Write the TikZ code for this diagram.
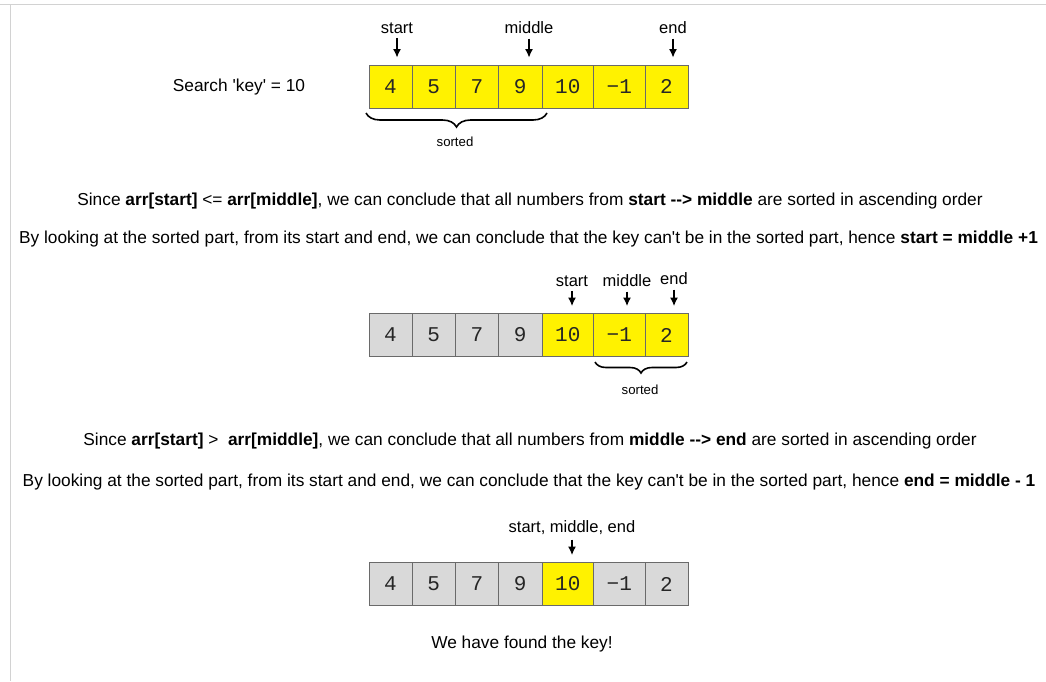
\documentclass[tikz,border=0pt]{standalone}
\usepackage{fontspec}
\setmainfont{Liberation Sans}
\newfontfamily\celdafont{Liberation Mono}
\usetikzlibrary{decorations.pathreplacing,arrows.meta}
\definecolor{grisceld}{HTML}{D9D9D9}
\definecolor{bordeceld}{HTML}{6A6A6A}
\definecolor{marco}{HTML}{D2D2D2}
\newcommand{\q}{\textquotesingle}

\begin{document}
\begin{tikzpicture}[x=1pt,y=-1pt,>={Latex[length=8.5pt,width=8pt]},
	celda/.style={draw=bordeceld, line width=1pt, minimum height=43pt, inner sep=0pt, font=\celdafont\fontsize{21}{21}\selectfont, text=black!85},
	amarilla/.style={celda, fill=yellow},
	gris/.style={celda, fill=grisceld},
	etiqueta/.style={font=\fontsize{16.5}{16.5}\selectfont},
	texto/.style={font=\fontsize{17.3}{17.3}\selectfont},
	flecha/.style={->, line width=1.2pt, shorten <=1pt, shorten >=7pt},
	llave/.style={decorate, decoration={brace, mirror, amplitude=#1}, line width=1.6pt}]
	\useasboundingbox (0,0) rectangle (1046,681);
	\draw [marco, line width=1pt] (0,4) -- (1046,4);
	\draw [marco, line width=1pt] (10,4) -- (10,681);
% PRIMER ARREGLO
	\node [texto] (busca) at (239,87) {Search \q key\q{} = 10};
	\node [amarilla, minimum width=43pt] (a1) at (390.5,86.5) {4};
	\node [amarilla, minimum width=43.5pt] (a2) at (433.75,86.5) {5};
	\node [amarilla, minimum width=43pt] (a3) at (477,86.5) {7};
	\node [amarilla, minimum width=43.5pt] (a4) at (520.25,86.5) {9};
	\node [amarilla, minimum width=51.5pt] (a5) at (567.75,86.5) {10};
	\node [amarilla, minimum width=51.5pt] (a6) at (619.25,86.5) {−1};
	\node [amarilla, minimum width=43pt] (a7) at (666.5,86.5) {2};
	\node [etiqueta] (ini1) at (397,28) {start};
	\node [etiqueta] (mid1) at (529,28) {middle};
	\node [etiqueta] (fin1) at (673,28) {end};
	\draw [flecha] (ini1) -- (ini1 |- a1.north);
	\draw [flecha] (mid1) -- (mid1 |- a1.north);
	\draw [flecha] (fin1) -- (fin1 |- a1.north);
	\coordinate (l1a) at (366,113);
	\coordinate (l1b) at (547,113);
	\draw [llave=14pt] (l1a) -- (l1b);
	\node [font=\fontsize{13.2}{13.2}\selectfont] (ord1) at (455,142) {sorted};
	\node [texto] (frase1) at (530,201.5) {Since \textbf{arr[start]} <= \textbf{arr[middle]}, we can conclude that all numbers from \textbf{start -{}-> middle} are sorted in ascending order};
	\node [texto] (frase2) at (528.5,239.5) {By looking at the sorted part, from its start and end, we can conclude that the key can\q t be in the sorted part, hence \textbf{start = middle +1}};
% SEGUNDO ARREGLO
	\node [gris, minimum width=43pt] (b1) at (390.5,335) {4};
	\node [gris, minimum width=43.5pt] (b2) at (433.75,335) {5};
	\node [gris, minimum width=43pt] (b3) at (477,335) {7};
	\node [gris, minimum width=43.5pt] (b4) at (520.25,335) {9};
	\node [amarilla, minimum width=51.5pt] (b5) at (567.75,335) {10};
	\node [amarilla, minimum width=51.5pt] (b6) at (619.25,335) {−1};
	\node [amarilla, minimum width=43pt] (b7) at (666.5,335) {2};
	\node [etiqueta] (ini2) at (572,281) {start};
	\node [etiqueta] (mid2) at (627,281) {middle};
	\node [etiqueta] (fin2) at (674,279) {end};
	\draw [flecha] (ini2) -- (ini2 |- b1.north);
	\draw [flecha] (mid2) -- (mid2 |- b1.north);
	\draw [flecha] (fin2) -- (fin2 |- b1.north);
	\coordinate (l2a) at (595,362);
	\coordinate (l2b) at (687,362);
	\draw [llave=11pt] (l2a) -- (l2b);
	\node [font=\fontsize{13.2}{13.2}\selectfont] (ord2) at (640,390) {sorted};
	\node [texto] (frase3) at (530,441.5) {Since \textbf{arr[start]} >\ \ \textbf{arr[middle]}, we can conclude that all numbers from \textbf{middle -{}-> end} are sorted in ascending order};
	\node [texto] (frase4) at (529,482.5) {By looking at the sorted part, from its start and end, we can conclude that the key can\q t be in the sorted part, hence \textbf{end = middle - 1}};
% TERCER ARREGLO
	\node [gris, minimum width=43pt] (c1) at (390.5,584) {4};
	\node [gris, minimum width=43.5pt] (c2) at (433.75,584) {5};
	\node [gris, minimum width=43pt] (c3) at (477,584) {7};
	\node [gris, minimum width=43.5pt] (c4) at (520.25,584) {9};
	\node [amarilla, minimum width=51.5pt] (c5) at (567.75,584) {10};
	\node [gris, minimum width=51.5pt] (c6) at (619.25,584) {−1};
	\node [gris, minimum width=43pt] (c7) at (666.5,584) {2};
	\node [etiqueta] (todos) at (572,528) {start, middle, end};
	\draw [flecha] (todos) -- (todos |- c1.north);
	\node [texto] (fin) at (522,644.5) {We have found the key!};
\end{tikzpicture}
\end{document}
